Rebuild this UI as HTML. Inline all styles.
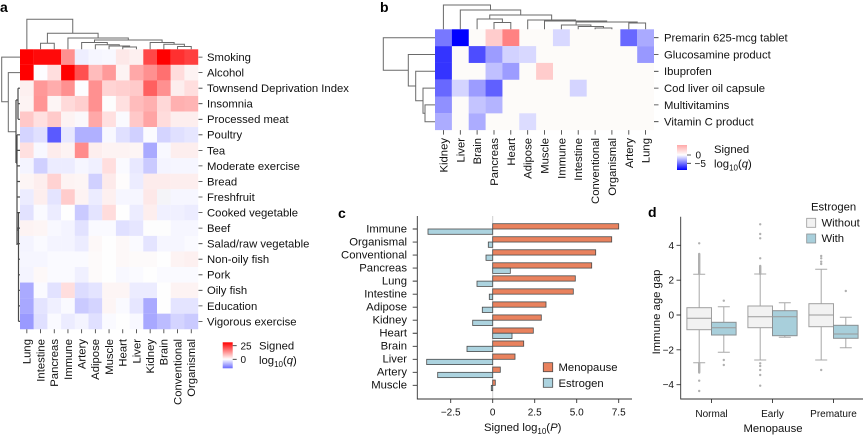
<!DOCTYPE html>
<html><head><meta charset="utf-8"><style>
html,body{margin:0;padding:0;background:#fff;}
svg{display:block;font-family:"Liberation Sans",Arial,sans-serif;}
.t{font-size:11.3px;fill:#111;}
.s{font-size:10px;fill:#111;}
.d{fill:none;stroke:#6a6a6a;stroke-width:1;}
</style></head><body>
<svg width="865" height="436" viewBox="0 0 865 436" xmlns="http://www.w3.org/2000/svg">
<defs>
<linearGradient id="ga" x1="0" y1="0" x2="0" y2="1"><stop offset="0" stop-color="#ff0000"/><stop offset="0.65" stop-color="#ffffff"/><stop offset="1" stop-color="#6a6aff"/></linearGradient>
<linearGradient id="gb" x1="0" y1="0" x2="0" y2="1"><stop offset="0" stop-color="#ffa8a8"/><stop offset="0.4" stop-color="#ffffff"/><stop offset="1" stop-color="#0000ff"/></linearGradient>
</defs>

<!-- Panel labels -->
<text x="0" y="12" font-size="14" font-weight="bold" fill="#000">a</text>
<text x="380" y="12" font-size="14" font-weight="bold" fill="#000">b</text>
<text x="338" y="218" font-size="14" font-weight="bold" fill="#000">c</text>
<text x="648" y="217" font-size="14" font-weight="bold" fill="#000">d</text>

<!-- ===== Panel a heatmap ===== -->
<g>
<g transform="translate(0,49.3)"><rect x="20" width="13.8" height="15.6" fill="#ff0000"/><rect x="33.7" width="13.8" height="15.6" fill="#ff0a0a"/><rect x="47.4" width="13.8" height="15.6" fill="#ff0a0a"/><rect x="61.1" width="13.8" height="15.6" fill="#ff9090"/><rect x="74.8" width="13.8" height="15.6" fill="#eeeeff"/><rect x="88.5" width="13.8" height="15.6" fill="#f6f6ff"/><rect x="102.2" width="13.8" height="15.6" fill="#f8f8ff"/><rect x="115.9" width="13.8" height="15.6" fill="#fde8e8"/><rect x="129.6" width="13.8" height="15.6" fill="#fdf0f0"/><rect x="143.3" width="13.8" height="15.6" fill="#ff4848"/><rect x="157" width="13.8" height="15.6" fill="#ff0000"/><rect x="170.7" width="13.8" height="15.6" fill="#ff3030"/><rect x="184.4" width="13.8" height="15.6" fill="#ff4040"/></g>
<g transform="translate(0,64.85)"><rect x="20" width="13.8" height="15.6" fill="#ff0000"/><rect x="33.7" width="13.8" height="15.6" fill="#fdfdff"/><rect x="47.4" width="13.8" height="15.6" fill="#ffdede"/><rect x="61.1" width="13.8" height="15.6" fill="#ff0000"/><rect x="74.8" width="13.8" height="15.6" fill="#ff5050"/><rect x="88.5" width="13.8" height="15.6" fill="#ffbcbc"/><rect x="102.2" width="13.8" height="15.6" fill="#ff9a9a"/><rect x="115.9" width="13.8" height="15.6" fill="#fdf3f3"/><rect x="129.6" width="13.8" height="15.6" fill="#ffa8a8"/><rect x="143.3" width="13.8" height="15.6" fill="#ff9090"/><rect x="157" width="13.8" height="15.6" fill="#ff7070"/><rect x="170.7" width="13.8" height="15.6" fill="#ffdcdc"/><rect x="184.4" width="13.8" height="15.6" fill="#fdf3f3"/></g>
<g transform="translate(0,80.4)"><rect x="20" width="13.8" height="15.6" fill="#fdf0f0"/><rect x="33.7" width="13.8" height="15.6" fill="#ff9898"/><rect x="47.4" width="13.8" height="15.6" fill="#ffacac"/><rect x="61.1" width="13.8" height="15.6" fill="#ff9090"/><rect x="74.8" width="13.8" height="15.6" fill="#fdfdff"/><rect x="88.5" width="13.8" height="15.6" fill="#ff9090"/><rect x="102.2" width="13.8" height="15.6" fill="#ffd4d4"/><rect x="115.9" width="13.8" height="15.6" fill="#ffcfcf"/><rect x="129.6" width="13.8" height="15.6" fill="#ffcaca"/><rect x="143.3" width="13.8" height="15.6" fill="#ff6060"/><rect x="157" width="13.8" height="15.6" fill="#ff9090"/><rect x="170.7" width="13.8" height="15.6" fill="#fdeeee"/><rect x="184.4" width="13.8" height="15.6" fill="#ffdede"/></g>
<g transform="translate(0,95.95)"><rect x="20" width="13.8" height="15.6" fill="#fdf3f3"/><rect x="33.7" width="13.8" height="15.6" fill="#ff9595"/><rect x="47.4" width="13.8" height="15.6" fill="#fdf5f5"/><rect x="61.1" width="13.8" height="15.6" fill="#ffdada"/><rect x="74.8" width="13.8" height="15.6" fill="#ffcfcf"/><rect x="88.5" width="13.8" height="15.6" fill="#ff9090"/><rect x="102.2" width="13.8" height="15.6" fill="#fdfdfd"/><rect x="115.9" width="13.8" height="15.6" fill="#ffe0e0"/><rect x="129.6" width="13.8" height="15.6" fill="#ffbcbc"/><rect x="143.3" width="13.8" height="15.6" fill="#ffb0b0"/><rect x="157" width="13.8" height="15.6" fill="#ffd8d8"/><rect x="170.7" width="13.8" height="15.6" fill="#ffb0b0"/><rect x="184.4" width="13.8" height="15.6" fill="#ffb4b4"/></g>
<g transform="translate(0,111.5)"><rect x="20" width="13.8" height="15.6" fill="#ffc8c8"/><rect x="33.7" width="13.8" height="15.6" fill="#ffe0e0"/><rect x="47.4" width="13.8" height="15.6" fill="#ffcaca"/><rect x="61.1" width="13.8" height="15.6" fill="#fdf3f3"/><rect x="74.8" width="13.8" height="15.6" fill="#fbf8fb"/><rect x="88.5" width="13.8" height="15.6" fill="#ffa8a8"/><rect x="102.2" width="13.8" height="15.6" fill="#ffe0e0"/><rect x="115.9" width="13.8" height="15.6" fill="#fafafe"/><rect x="129.6" width="13.8" height="15.6" fill="#ffc8c8"/><rect x="143.3" width="13.8" height="15.6" fill="#ffa4a4"/><rect x="157" width="13.8" height="15.6" fill="#ffdcdc"/><rect x="170.7" width="13.8" height="15.6" fill="#fdeeee"/><rect x="184.4" width="13.8" height="15.6" fill="#fdeeee"/></g>
<g transform="translate(0,127.05)"><rect x="20" width="13.8" height="15.6" fill="#d4d4ff"/><rect x="33.7" width="13.8" height="15.6" fill="#e0e0ff"/><rect x="47.4" width="13.8" height="15.6" fill="#5a5aff"/><rect x="61.1" width="13.8" height="15.6" fill="#e8e8ff"/><rect x="74.8" width="13.8" height="15.6" fill="#b0b0ff"/><rect x="88.5" width="13.8" height="15.6" fill="#b0b0ff"/><rect x="102.2" width="13.8" height="15.6" fill="#f8f8ff"/><rect x="115.9" width="13.8" height="15.6" fill="#e0e0ff"/><rect x="129.6" width="13.8" height="15.6" fill="#d0d0ff"/><rect x="143.3" width="13.8" height="15.6" fill="#fbfbff"/><rect x="157" width="13.8" height="15.6" fill="#d4d4ff"/><rect x="170.7" width="13.8" height="15.6" fill="#e0e0ff"/><rect x="184.4" width="13.8" height="15.6" fill="#e6e6ff"/></g>
<g transform="translate(0,142.6)"><rect x="20" width="13.8" height="15.6" fill="#ffe0e0"/><rect x="33.7" width="13.8" height="15.6" fill="#f8f8ff"/><rect x="47.4" width="13.8" height="15.6" fill="#fdecec"/><rect x="61.1" width="13.8" height="15.6" fill="#fdf3f3"/><rect x="74.8" width="13.8" height="15.6" fill="#ff8c8c"/><rect x="88.5" width="13.8" height="15.6" fill="#fdeeee"/><rect x="102.2" width="13.8" height="15.6" fill="#fdf3f3"/><rect x="115.9" width="13.8" height="15.6" fill="#fdf3f3"/><rect x="129.6" width="13.8" height="15.6" fill="#fdf5f5"/><rect x="143.3" width="13.8" height="15.6" fill="#aaaaff"/><rect x="157" width="13.8" height="15.6" fill="#f8f8ff"/><rect x="170.7" width="13.8" height="15.6" fill="#fdeeee"/><rect x="184.4" width="13.8" height="15.6" fill="#fdeeee"/></g>
<g transform="translate(0,158.15)"><rect x="20" width="13.8" height="15.6" fill="#f4f4ff"/><rect x="33.7" width="13.8" height="15.6" fill="#d0d0ff"/><rect x="47.4" width="13.8" height="15.6" fill="#ececff"/><rect x="61.1" width="13.8" height="15.6" fill="#ececff"/><rect x="74.8" width="13.8" height="15.6" fill="#f6f6ff"/><rect x="88.5" width="13.8" height="15.6" fill="#f0f0ff"/><rect x="102.2" width="13.8" height="15.6" fill="#ffdede"/><rect x="115.9" width="13.8" height="15.6" fill="#fafaff"/><rect x="129.6" width="13.8" height="15.6" fill="#e8e8ff"/><rect x="143.3" width="13.8" height="15.6" fill="#cacaff"/><rect x="157" width="13.8" height="15.6" fill="#f4f4ff"/><rect x="170.7" width="13.8" height="15.6" fill="#f6f6ff"/><rect x="184.4" width="13.8" height="15.6" fill="#f6f6ff"/></g>
<g transform="translate(0,173.7)"><rect x="20" width="13.8" height="15.6" fill="#fdf5f5"/><rect x="33.7" width="13.8" height="15.6" fill="#fdeeee"/><rect x="47.4" width="13.8" height="15.6" fill="#ffd2d2"/><rect x="61.1" width="13.8" height="15.6" fill="#fdf3f3"/><rect x="74.8" width="13.8" height="15.6" fill="#fdf5f5"/><rect x="88.5" width="13.8" height="15.6" fill="#d0d0ff"/><rect x="102.2" width="13.8" height="15.6" fill="#fdeaea"/><rect x="115.9" width="13.8" height="15.6" fill="#fefcfc"/><rect x="129.6" width="13.8" height="15.6" fill="#ececff"/><rect x="143.3" width="13.8" height="15.6" fill="#fdecec"/><rect x="157" width="13.8" height="15.6" fill="#fdecec"/><rect x="170.7" width="13.8" height="15.6" fill="#fdeeee"/><rect x="184.4" width="13.8" height="15.6" fill="#fdeeee"/></g>
<g transform="translate(0,189.25)"><rect x="20" width="13.8" height="15.6" fill="#ececff"/><rect x="33.7" width="13.8" height="15.6" fill="#fdeeee"/><rect x="47.4" width="13.8" height="15.6" fill="#e4e4ff"/><rect x="61.1" width="13.8" height="15.6" fill="#ffcccc"/><rect x="74.8" width="13.8" height="15.6" fill="#fdf3f3"/><rect x="88.5" width="13.8" height="15.6" fill="#ececff"/><rect x="102.2" width="13.8" height="15.6" fill="#fdf0f0"/><rect x="115.9" width="13.8" height="15.6" fill="#f6f6ff"/><rect x="129.6" width="13.8" height="15.6" fill="#f6f6ff"/><rect x="143.3" width="13.8" height="15.6" fill="#fde8e8"/><rect x="157" width="13.8" height="15.6" fill="#f4f4f8"/><rect x="170.7" width="13.8" height="15.6" fill="#f6f6ff"/><rect x="184.4" width="13.8" height="15.6" fill="#f6f6ff"/></g>
<g transform="translate(0,204.8)"><rect x="20" width="13.8" height="15.6" fill="#e2e2ff"/><rect x="33.7" width="13.8" height="15.6" fill="#fafaff"/><rect x="47.4" width="13.8" height="15.6" fill="#ececff"/><rect x="61.1" width="13.8" height="15.6" fill="#fefefe"/><rect x="74.8" width="13.8" height="15.6" fill="#cacaff"/><rect x="88.5" width="13.8" height="15.6" fill="#e4e4ff"/><rect x="102.2" width="13.8" height="15.6" fill="#ffdcdc"/><rect x="115.9" width="13.8" height="15.6" fill="#fefefe"/><rect x="129.6" width="13.8" height="15.6" fill="#ececff"/><rect x="143.3" width="13.8" height="15.6" fill="#fdeeee"/><rect x="157" width="13.8" height="15.6" fill="#f0f0ff"/><rect x="170.7" width="13.8" height="15.6" fill="#f0f0ff"/><rect x="184.4" width="13.8" height="15.6" fill="#ececff"/></g>
<g transform="translate(0,220.35)"><rect x="20" width="13.8" height="15.6" fill="#fdf3f3"/><rect x="33.7" width="13.8" height="15.6" fill="#fdf5f5"/><rect x="47.4" width="13.8" height="15.6" fill="#f8f8ff"/><rect x="61.1" width="13.8" height="15.6" fill="#f4f4ff"/><rect x="74.8" width="13.8" height="15.6" fill="#e2e2ff"/><rect x="88.5" width="13.8" height="15.6" fill="#fafaff"/><rect x="102.2" width="13.8" height="15.6" fill="#fafaff"/><rect x="115.9" width="13.8" height="15.6" fill="#e0e0ff"/><rect x="129.6" width="13.8" height="15.6" fill="#e6e6ff"/><rect x="143.3" width="13.8" height="15.6" fill="#fdfdfd"/><rect x="157" width="13.8" height="15.6" fill="#fdfdfd"/><rect x="170.7" width="13.8" height="15.6" fill="#f6f6ff"/><rect x="184.4" width="13.8" height="15.6" fill="#f6f6ff"/></g>
<g transform="translate(0,235.9)"><rect x="20" width="13.8" height="15.6" fill="#f4f4ff"/><rect x="33.7" width="13.8" height="15.6" fill="#fafaff"/><rect x="47.4" width="13.8" height="15.6" fill="#f4f4ff"/><rect x="61.1" width="13.8" height="15.6" fill="#f4f4ff"/><rect x="74.8" width="13.8" height="15.6" fill="#ececff"/><rect x="88.5" width="13.8" height="15.6" fill="#fdf8f8"/><rect x="102.2" width="13.8" height="15.6" fill="#fefefe"/><rect x="115.9" width="13.8" height="15.6" fill="#fdf8f8"/><rect x="129.6" width="13.8" height="15.6" fill="#fafaff"/><rect x="143.3" width="13.8" height="15.6" fill="#e4e4ff"/><rect x="157" width="13.8" height="15.6" fill="#f6f6ff"/><rect x="170.7" width="13.8" height="15.6" fill="#f6f6ff"/><rect x="184.4" width="13.8" height="15.6" fill="#fafaff"/></g>
<g transform="translate(0,251.45)"><rect x="20" width="13.8" height="15.6" fill="#f6f6ff"/><rect x="33.7" width="13.8" height="15.6" fill="#f6f6ff"/><rect x="47.4" width="13.8" height="15.6" fill="#fafaff"/><rect x="61.1" width="13.8" height="15.6" fill="#fafaff"/><rect x="74.8" width="13.8" height="15.6" fill="#fafaff"/><rect x="88.5" width="13.8" height="15.6" fill="#fdfafa"/><rect x="102.2" width="13.8" height="15.6" fill="#fefefe"/><rect x="115.9" width="13.8" height="15.6" fill="#fdf8f8"/><rect x="129.6" width="13.8" height="15.6" fill="#fdfafa"/><rect x="143.3" width="13.8" height="15.6" fill="#fdfafa"/><rect x="157" width="13.8" height="15.6" fill="#fefefe"/><rect x="170.7" width="13.8" height="15.6" fill="#fdf3f3"/><rect x="184.4" width="13.8" height="15.6" fill="#fdf0f0"/></g>
<g transform="translate(0,267)"><rect x="20" width="13.8" height="15.6" fill="#f4f4ff"/><rect x="33.7" width="13.8" height="15.6" fill="#fdf8f8"/><rect x="47.4" width="13.8" height="15.6" fill="#fafaff"/><rect x="61.1" width="13.8" height="15.6" fill="#fafaff"/><rect x="74.8" width="13.8" height="15.6" fill="#f0f0ff"/><rect x="88.5" width="13.8" height="15.6" fill="#fdfafa"/><rect x="102.2" width="13.8" height="15.6" fill="#fefefe"/><rect x="115.9" width="13.8" height="15.6" fill="#f8f8ff"/><rect x="129.6" width="13.8" height="15.6" fill="#fafaff"/><rect x="143.3" width="13.8" height="15.6" fill="#fefefe"/><rect x="157" width="13.8" height="15.6" fill="#fafaff"/><rect x="170.7" width="13.8" height="15.6" fill="#fafaff"/><rect x="184.4" width="13.8" height="15.6" fill="#fafaff"/></g>
<g transform="translate(0,282.55)"><rect x="20" width="13.8" height="15.6" fill="#aaaaff"/><rect x="33.7" width="13.8" height="15.6" fill="#fafaff"/><rect x="47.4" width="13.8" height="15.6" fill="#e2e2ff"/><rect x="61.1" width="13.8" height="15.6" fill="#ffdede"/><rect x="74.8" width="13.8" height="15.6" fill="#dcdcff"/><rect x="88.5" width="13.8" height="15.6" fill="#e4e4ff"/><rect x="102.2" width="13.8" height="15.6" fill="#fdf5f5"/><rect x="115.9" width="13.8" height="15.6" fill="#fdf5f5"/><rect x="129.6" width="13.8" height="15.6" fill="#ececff"/><rect x="143.3" width="13.8" height="15.6" fill="#ececff"/><rect x="157" width="13.8" height="15.6" fill="#fefefe"/><rect x="170.7" width="13.8" height="15.6" fill="#fdf3f3"/><rect x="184.4" width="13.8" height="15.6" fill="#fdf3f3"/></g>
<g transform="translate(0,298.1)"><rect x="20" width="13.8" height="15.6" fill="#a8a8ff"/><rect x="33.7" width="13.8" height="15.6" fill="#e4e4ff"/><rect x="47.4" width="13.8" height="15.6" fill="#f0f0ff"/><rect x="61.1" width="13.8" height="15.6" fill="#fafaff"/><rect x="74.8" width="13.8" height="15.6" fill="#cacaff"/><rect x="88.5" width="13.8" height="15.6" fill="#d4d4ff"/><rect x="102.2" width="13.8" height="15.6" fill="#fdf5f5"/><rect x="115.9" width="13.8" height="15.6" fill="#fafaff"/><rect x="129.6" width="13.8" height="15.6" fill="#e6e6ff"/><rect x="143.3" width="13.8" height="15.6" fill="#aaaaff"/><rect x="157" width="13.8" height="15.6" fill="#fefefe"/><rect x="170.7" width="13.8" height="15.6" fill="#e4e4ff"/><rect x="184.4" width="13.8" height="15.6" fill="#e4e4ff"/></g>
<g transform="translate(0,313.65)"><rect x="20" width="13.8" height="15.6" fill="#9a9aff"/><rect x="33.7" width="13.8" height="15.6" fill="#e0e0ff"/><rect x="47.4" width="13.8" height="15.6" fill="#fafaff"/><rect x="61.1" width="13.8" height="15.6" fill="#ececff"/><rect x="74.8" width="13.8" height="15.6" fill="#f4f4ff"/><rect x="88.5" width="13.8" height="15.6" fill="#e0e0ff"/><rect x="102.2" width="13.8" height="15.6" fill="#fafaff"/><rect x="115.9" width="13.8" height="15.6" fill="#fefefe"/><rect x="129.6" width="13.8" height="15.6" fill="#f8f8ff"/><rect x="143.3" width="13.8" height="15.6" fill="#a8a8ff"/><rect x="157" width="13.8" height="15.6" fill="#bcbcff"/><rect x="170.7" width="13.8" height="15.6" fill="#d4d4ff"/><rect x="184.4" width="13.8" height="15.6" fill="#cacaff"/></g>
</g>

<!-- a dendrograms -->
<g class="d">
<path d="M40.55 49.3V43.3H54.25V49.3M122.75 49.3V47H136.45V49.3M109.05 49.3V46H129.6V47M95.35 49.3V44.8H119.3V46M81.65 49.3V42.5H107.3V44.8M177.55 49.3V46.5H191.25V49.3M163.85 49.3V44.3H184.4V46.5M150.15 49.3V42.5H174.1V44.3M94.5 42.5V40H162.1V42.5M67.95 49.3V38H128.3V40M47.4 43.3V33.3H98.1V38M26.85 49.3V19.3H72.75V33.3"/>
<path d="M20 57.1H1.7V101.7H8.3M20 72.6H8.3V131.7H16"/>
</g>
<g fill="none" stroke="#4a4a4a" stroke-width="1.2">
<path d="M16 100V163M16 100H18M18 88.2V119.3M18 88.2H20M18 103.7H20M18 119.3H20M16 163H17M17 134.8V245M17 134.8H20M17 150.4H20M17 165.9H20M17 181.5H20M17 197H20M17 212.6H20M17 228.1H20M17 243.7H20M17 230H18.5M18.5 212V321.4M18.5 259.2H20M18.5 274.8H20M18.5 290.3H20M18.5 305.9H20M18.5 321.4H20"/>
</g>

<!-- a row ticks & labels -->
<g stroke="#333" stroke-width="0.8">
<path d="M198.5 57.1h4M198.5 72.6h4M198.5 88.2h4M198.5 103.7h4M198.5 119.3h4M198.5 134.8h4M198.5 150.4h4M198.5 165.9h4M198.5 181.5h4M198.5 197h4M198.5 212.6h4M198.5 228.1h4M198.5 243.7h4M198.5 259.2h4M198.5 274.8h4M198.5 290.3h4M198.5 305.9h4M198.5 321.4h4"/>
<path d="M26.85 329.2v4M40.55 329.2v4M54.25 329.2v4M67.95 329.2v4M81.65 329.2v4M95.35 329.2v4M109.05 329.2v4M122.75 329.2v4M136.45 329.2v4M150.15 329.2v4M163.85 329.2v4M177.55 329.2v4M191.25 329.2v4"/>
</g>
<g class="t">
<text x="207" y="61">Smoking</text>
<text x="207" y="76.5">Alcohol</text>
<text x="207" y="92.1">Townsend Deprivation Index</text>
<text x="207" y="107.6">Insomnia</text>
<text x="207" y="123.2">Processed meat</text>
<text x="207" y="138.7">Poultry</text>
<text x="207" y="154.3">Tea</text>
<text x="207" y="169.8">Moderate exercise</text>
<text x="207" y="185.4">Bread</text>
<text x="207" y="200.9">Freshfruit</text>
<text x="207" y="216.5">Cooked vegetable</text>
<text x="207" y="232">Beef</text>
<text x="207" y="247.6">Salad/raw vegetable</text>
<text x="207" y="263.1">Non-oily fish</text>
<text x="207" y="278.7">Pork</text>
<text x="207" y="294.2">Oily fish</text>
<text x="207" y="309.8">Education</text>
<text x="207" y="325.3">Vigorous exercise</text>
</g>
<g class="t" text-anchor="end" font-size="10.8">
<text transform="translate(30.7,339) rotate(-90)">Lung</text>
<text transform="translate(44.4,339) rotate(-90)">Intestine</text>
<text transform="translate(58.1,339) rotate(-90)">Pancreas</text>
<text transform="translate(71.8,339) rotate(-90)">Immune</text>
<text transform="translate(85.5,339) rotate(-90)">Artery</text>
<text transform="translate(99.2,339) rotate(-90)">Adipose</text>
<text transform="translate(112.9,339) rotate(-90)">Muscle</text>
<text transform="translate(126.6,339) rotate(-90)">Heart</text>
<text transform="translate(140.3,339) rotate(-90)">Liver</text>
<text transform="translate(154,339) rotate(-90)">Kidney</text>
<text transform="translate(167.7,339) rotate(-90)">Brain</text>
<text transform="translate(181.4,339) rotate(-90)">Conventional</text>
<text transform="translate(195.1,339) rotate(-90)">Organismal</text>
</g>

<!-- a colorbar -->
<rect x="222.7" y="342.3" width="10" height="26" fill="url(#ga)"/>
<path d="M232.7 345.7h4M232.7 359.3h4" stroke="#333" stroke-width="0.8"/>
<text class="s" x="240.5" y="349.5" font-size="10.5">25</text>
<text class="s" x="240.5" y="363" font-size="10.5">0</text>
<text class="t" x="259" y="349.5">Signed</text>
<text class="t" x="259" y="364">log<tspan font-size="8" dy="3">10</tspan><tspan dy="-3">(</tspan><tspan font-style="italic">q</tspan>)</text>

<!-- ===== Panel b heatmap ===== -->
<rect x="435" y="29.3" width="219" height="100.8" fill="#fdfbf9"/>
<g>
<rect x="435" y="29.3" width="16.9" height="16.85" fill="#7878ff"/><rect x="451.85" y="29.3" width="16.9" height="16.85" fill="#0000ff"/><rect x="485.55" y="29.3" width="16.9" height="16.85" fill="#ffcccc"/><rect x="502.4" y="29.3" width="16.9" height="16.85" fill="#ff8282"/><rect x="552.95" y="29.3" width="16.9" height="16.85" fill="#d8d8ff"/><rect x="620.35" y="29.3" width="16.9" height="16.85" fill="#6868ff"/><rect x="637.2" y="29.3" width="16.8" height="16.85" fill="#aaaaff"/>
<rect x="435" y="46.1" width="16.9" height="16.85" fill="#3434ff"/><rect x="468.7" y="46.1" width="16.9" height="16.85" fill="#4d4dff"/><rect x="485.55" y="46.1" width="16.9" height="16.85" fill="#9c9cff"/><rect x="502.4" y="46.1" width="16.9" height="16.85" fill="#d2d2ff"/><rect x="519.25" y="46.1" width="16.9" height="16.85" fill="#d8d8ff"/><rect x="637.2" y="46.1" width="16.8" height="16.85" fill="#9898ff"/>
<rect x="435" y="62.9" width="16.9" height="16.85" fill="#3434ff"/><rect x="485.55" y="62.9" width="16.9" height="16.85" fill="#c0c0ff"/><rect x="502.4" y="62.9" width="16.9" height="16.85" fill="#9c9cff"/><rect x="536.1" y="62.9" width="16.9" height="16.85" fill="#ffcccc"/>
<rect x="435" y="79.7" width="16.9" height="16.85" fill="#6868ff"/><rect x="451.85" y="79.7" width="16.9" height="16.85" fill="#d4d4ff"/><rect x="468.7" y="79.7" width="16.9" height="16.85" fill="#9c9cff"/><rect x="485.55" y="79.7" width="16.9" height="16.85" fill="#6060ff"/><rect x="569.8" y="79.7" width="16.9" height="16.85" fill="#d4d4ff"/>
<rect x="435" y="96.5" width="16.9" height="16.85" fill="#9090ff"/><rect x="468.7" y="96.5" width="16.9" height="16.85" fill="#c4c4ff"/><rect x="485.55" y="96.5" width="16.9" height="16.85" fill="#b4b4ff"/>
<rect x="435" y="113.3" width="16.9" height="16.8" fill="#acacff"/><rect x="468.7" y="113.3" width="16.9" height="16.8" fill="#acacff"/><rect x="519.25" y="113.3" width="16.9" height="16.8" fill="#dcdcff"/>
</g>
<g class="d">
<path d="M494 29.3V22.5H510.8V29.3M477.1 29.3V19H502.4V22.5M595.1 29.3V28H611.9V29.3M578.2 29.3V26.5H603.5V28M561.4 29.3V25H590.9V26.5M628.8 29.3V23H645.6V29.3M576.1 25V22H637.2V23M544.5 29.3V21H606.7V22M527.7 29.3V20H575.6V21M489.75 19V15H551.65V20M460.3 29.3V10H520.7V15M443.4 29.3V5H490.5V10"/>
<path d="M435 104.9H425V121.7H435M435 88.1H423V113.3H425M435 71.3H415.7V100.7H423M435 54.5H408.3V86H415.7M435 37.7H383.3V70.25H408.3"/>
</g>
<g stroke="#333" stroke-width="0.8">
<path d="M654 37.7h4.5M654 54.5h4.5M654 71.3h4.5M654 88.1h4.5M654 104.9h4.5M654 121.7h4.5"/>
<path d="M443.4 130.1v4.5M460.3 130.1v4.5M477.1 130.1v4.5M494 130.1v4.5M510.8 130.1v4.5M527.7 130.1v4.5M544.5 130.1v4.5M561.4 130.1v4.5M578.2 130.1v4.5M595.1 130.1v4.5M611.9 130.1v4.5M628.8 130.1v4.5M645.6 130.1v4.5"/>
</g>
<g class="t">
<text x="664" y="41.6">Premarin 625-mcg tablet</text>
<text x="664" y="58.4">Glucosamine product</text>
<text x="664" y="75.2">Ibuprofen</text>
<text x="664" y="92">Cod liver oil capsule</text>
<text x="664" y="108.8">Multivitamins</text>
<text x="664" y="125.6">Vitamin C product</text>
</g>
<g class="t" text-anchor="end">
<text transform="translate(447.4,138) rotate(-90)">Kidney</text>
<text transform="translate(464.3,138) rotate(-90)">Liver</text>
<text transform="translate(481.1,138) rotate(-90)">Brain</text>
<text transform="translate(498,138) rotate(-90)">Pancreas</text>
<text transform="translate(514.8,138) rotate(-90)">Heart</text>
<text transform="translate(531.7,138) rotate(-90)">Adipose</text>
<text transform="translate(548.5,138) rotate(-90)">Muscle</text>
<text transform="translate(565.4,138) rotate(-90)">Immune</text>
<text transform="translate(582.2,138) rotate(-90)">Intestine</text>
<text transform="translate(599.1,138) rotate(-90)">Conventional</text>
<text transform="translate(615.9,138) rotate(-90)">Organismal</text>
<text transform="translate(632.8,138) rotate(-90)">Artery</text>
<text transform="translate(649.6,138) rotate(-90)">Lung</text>
</g>
<!-- b colorbar -->
<rect x="677" y="145" width="10" height="25" fill="url(#gb)"/>
<path d="M687 155h4M687 163.3h4" stroke="#333" stroke-width="0.8"/>
<text class="s" x="695.5" y="158.5">0</text>
<text class="s" x="694.5" y="167">−5</text>
<text class="t" x="714" y="153">Signed</text>
<text class="t" x="714" y="167.5">log<tspan font-size="8" dy="3">10</tspan><tspan dy="-3">(</tspan><tspan font-style="italic">q</tspan>)</text>

<!-- ===== Panel c ===== -->
<line x1="492.7" y1="216" x2="492.7" y2="399" stroke="#cfcfcf" stroke-width="1"/>
<g stroke="#4a4a4a" stroke-width="0.8">
<g fill="#e9825e">
<rect x="492.7" y="223.7" width="126" height="5.3"/>
<rect x="492.7" y="236.73" width="119" height="5.3"/>
<rect x="492.7" y="249.76" width="103" height="5.3"/>
<rect x="492.7" y="262.79" width="99" height="5.3"/>
<rect x="492.7" y="275.82" width="82.6" height="5.3"/>
<rect x="492.7" y="288.85" width="80.6" height="5.3"/>
<rect x="492.7" y="301.88" width="53.3" height="5.3"/>
<rect x="492.7" y="314.91" width="48.6" height="5.3"/>
<rect x="492.7" y="327.94" width="40.6" height="5.3"/>
<rect x="492.7" y="340.97" width="31" height="5.3"/>
<rect x="492.7" y="354" width="22.3" height="5.3"/>
<rect x="492.7" y="367.03" width="7.6" height="5.3"/>
<rect x="492.7" y="380.06" width="2.6" height="5.3"/>
</g>
<g fill="#acd3df">
<rect x="428" y="229" width="64.7" height="5.3"/>
<rect x="488.3" y="242.03" width="4.4" height="5.3"/>
<rect x="486" y="255.06" width="6.7" height="5.3"/>
<rect x="492.7" y="268.09" width="17.6" height="5.3"/>
<rect x="477" y="281.12" width="15.7" height="5.3"/>
<rect x="489.3" y="294.15" width="3.4" height="5.3"/>
<rect x="482.3" y="307.18" width="10.4" height="5.3"/>
<rect x="472.7" y="320.21" width="20" height="5.3"/>
<rect x="492.7" y="333.24" width="19.3" height="5.3"/>
<rect x="467" y="346.27" width="25.7" height="5.3"/>
<rect x="426.7" y="359.3" width="66" height="5.3"/>
<rect x="437.7" y="372.33" width="55" height="5.3"/>
<rect x="491.3" y="385.36" width="1.4" height="5.3"/>
</g>
</g>
<g stroke="#333" stroke-width="0.9" fill="none">
<path d="M417.3 216V399H632"/>
<path d="M412.7 229h4.6M412.7 242.03h4.6M412.7 255.06h4.6M412.7 268.09h4.6M412.7 281.12h4.6M412.7 294.15h4.6M412.7 307.18h4.6M412.7 320.21h4.6M412.7 333.24h4.6M412.7 346.27h4.6M412.7 359.3h4.6M412.7 372.33h4.6M412.7 385.36h4.6"/>
<path d="M450.7 399v4M492.7 399v4M534.7 399v4M576.7 399v4M618.7 399v4"/>
</g>
<g class="t" text-anchor="end" font-size="11.5">
<text x="407" y="232.3">Immune</text>
<text x="407" y="245.3">Organismal</text>
<text x="407" y="258.4">Conventional</text>
<text x="407" y="271.4">Pancreas</text>
<text x="407" y="284.4">Lung</text>
<text x="407" y="297.5">Intestine</text>
<text x="407" y="310.5">Adipose</text>
<text x="407" y="323.5">Kidney</text>
<text x="407" y="336.5">Heart</text>
<text x="407" y="349.6">Brain</text>
<text x="407" y="362.6">Liver</text>
<text x="407" y="375.6">Artery</text>
<text x="407" y="388.7">Muscle</text>
</g>
<g class="s" text-anchor="middle">
<text x="450.7" y="415.5">−2.5</text>
<text x="492.7" y="415.5">0</text>
<text x="534.7" y="415.5">2.5</text>
<text x="576.7" y="415.5">5.0</text>
<text x="618.7" y="415.5">7.5</text>
</g>
<text class="t" x="522.7" y="431" text-anchor="middle">Signed log<tspan font-size="8" dy="3">10</tspan><tspan dy="-3">(</tspan><tspan font-style="italic">P</tspan>)</text>
<rect x="543.3" y="362.7" width="9.4" height="9" fill="#e9825e" stroke="#4a4a4a" stroke-width="0.8"/>
<rect x="543.3" y="378.3" width="9.4" height="9" fill="#acd3df" stroke="#4a4a4a" stroke-width="0.8"/>
<text class="t" x="558.5" y="371">Menopause</text>
<text class="t" x="558.5" y="387">Estrogen</text>

<!-- ===== Panel d ===== -->
<g stroke="#a8a8a8" stroke-width="1" fill="none">
<path d="M699.2 307.7V274.3M693.2 274.3h12M699.2 329.7V362.7M693.2 362.7h12"/>
<path d="M723.8 322.3V306.7M717.8 306.7h12M723.8 335V352.3M717.8 352.3h12"/>
<path d="M760.2 306V274M754.2 274h12M760.2 327.7V360M754.2 360h12"/>
<path d="M784.8 310.7V302.7M778.8 302.7h12M784.8 335.7V337.3M778.8 337.3h12"/>
<path d="M821.2 303.7V269.3M815.2 269.3h12M821.2 326.7V360M815.2 360h12"/>
<path d="M845.8 325.3V317.3M839.8 317.3h12M845.8 338.3V347.7M839.8 347.7h12"/>
</g>
<g stroke="#a0a0a0" stroke-width="1">
<rect x="686.9" y="307.7" width="24.6" height="22" fill="#f2f2f2"/>
<rect x="711.5" y="322.3" width="24.6" height="12.7" fill="#a8cfdb" stroke="#8a8f92"/>
<rect x="747.9" y="306" width="24.6" height="21.7" fill="#f2f2f2"/>
<rect x="772.5" y="310.7" width="24.6" height="25" fill="#a8cfdb" stroke="#8a8f92"/>
<rect x="808.9" y="303.7" width="24.6" height="23" fill="#f2f2f2"/>
<rect x="833.5" y="325.3" width="24.6" height="13" fill="#a8cfdb" stroke="#8a8f92"/>
</g>
<g stroke="#999" stroke-width="1">
<path d="M686.9 318.3h24.6M711.5 327.7h24.6M747.9 316.7h24.6M772.5 316.7h24.6M808.9 315h24.6M833.5 334h24.6"/>
</g>
<g stroke="#b0b0b0" stroke-width="2.4" stroke-linecap="round">
<path d="M699.2 254V274M699.2 363V372.5M760.2 266V274"/>
</g>
<g fill="#b0b0b0">
<circle cx="699.2" cy="243.3" r="1.2"/><circle cx="699.2" cy="380.7" r="1.2"/><circle cx="699.2" cy="391" r="1.2"/>
<circle cx="723.8" cy="300.7" r="1.2"/><circle cx="723.8" cy="360" r="1.2"/><circle cx="723.8" cy="365" r="1.2"/>
<circle cx="760.2" cy="258.3" r="1.2"/><circle cx="760.2" cy="238.3" r="1.2"/><circle cx="760.2" cy="234" r="1.2"/><circle cx="760.2" cy="224.3" r="1.2"/>
<circle cx="760.2" cy="363.3" r="1.2"/><circle cx="760.2" cy="366" r="1.2"/><circle cx="760.2" cy="370" r="1.2"/><circle cx="760.2" cy="375" r="1.2"/><circle cx="760.2" cy="385.7" r="1.2"/>
<circle cx="821.2" cy="256" r="1.2"/><circle cx="821.2" cy="258.3" r="1.2"/><circle cx="821.2" cy="261.7" r="1.2"/><circle cx="821.2" cy="264" r="1.2"/><circle cx="821.2" cy="370" r="1.2"/>
<circle cx="845.8" cy="291" r="1.2"/>
</g>
<g stroke="#333" stroke-width="0.9" fill="none">
<path d="M680.7 216.7V399H863"/>
<path d="M676.5 245.3h4.2M676.5 280.2h4.2M676.5 315h4.2M676.5 349.8h4.2M676.5 384.7h4.2"/>
<path d="M711.5 399v4M772.5 399v4M833.5 399v4"/>
</g>
<g class="s" text-anchor="end">
<text x="674" y="248.8">4</text>
<text x="674" y="283.7">2</text>
<text x="674" y="318.5">0</text>
<text x="674" y="353.3">−2</text>
<text x="674" y="388.2">−4</text>
</g>
<g class="s" text-anchor="middle">
<text x="711.5" y="417">Normal</text>
<text x="772.5" y="417">Early</text>
<text x="833.5" y="417">Premature</text>
</g>
<text class="t" x="773" y="432" text-anchor="middle">Menopause</text>
<text class="t" transform="translate(660,312) rotate(-90)" text-anchor="middle">Immune age gap</text>
<text class="t" x="811" y="210.5">Estrogen</text>
<rect x="806.7" y="218.3" width="9" height="9" fill="#f2f2f2" stroke="#999" stroke-width="0.8"/>
<rect x="806.7" y="234" width="9" height="9" fill="#a8cfdb" stroke="#8a8f92" stroke-width="0.8"/>
<text class="t" x="821.5" y="226.5">Without</text>
<text class="t" x="821.5" y="242">With</text>
</svg>
</body></html>
